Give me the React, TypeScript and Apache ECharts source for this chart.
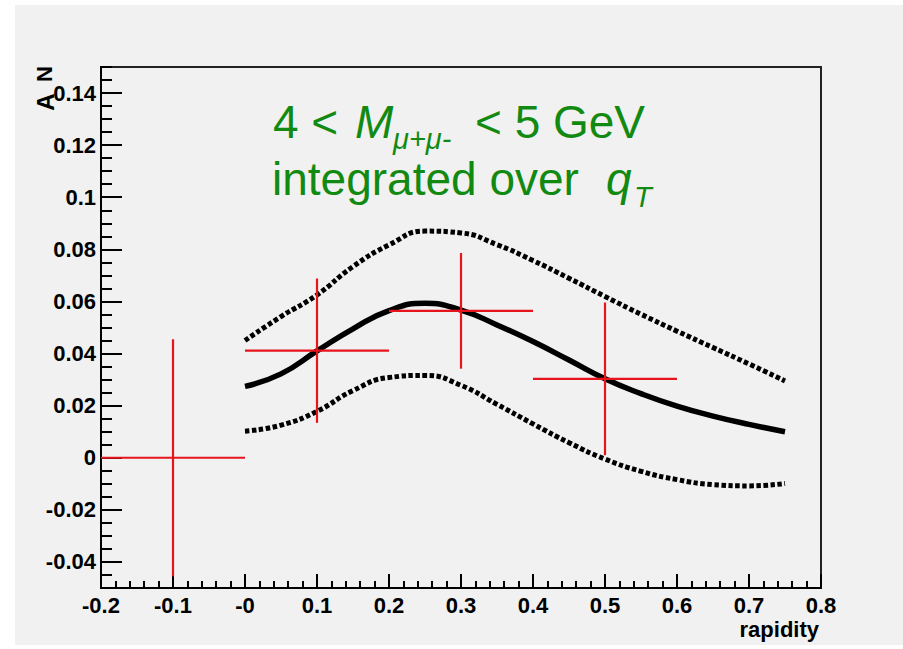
import React, { useEffect, useRef } from "react";
import * as echarts from "echarts";

// ---- data ----
const curveX = [0, 0.05, 0.1, 0.15, 0.2, 0.25, 0.3, 0.35, 0.4, 0.45, 0.5, 0.55, 0.6, 0.65, 0.7, 0.75];
const centralY = [0.0274, 0.0322, 0.041, 0.0495, 0.0565, 0.0593, 0.0567, 0.051, 0.0446, 0.0375, 0.0303, 0.0246, 0.0198, 0.016, 0.0128, 0.01];
const upperY = [0.045, 0.0542, 0.0625, 0.0734, 0.0817, 0.087, 0.0863, 0.0818, 0.0757, 0.0689, 0.0619, 0.0551, 0.0486, 0.0423, 0.036, 0.0295];
const lowerY = [0.0102, 0.0125, 0.0178, 0.0258, 0.0308, 0.0316, 0.0278, 0.0205, 0.013, 0.0058, -0.0005, -0.0052, -0.0084, -0.0103, -0.0108, -0.0099];

const pointX = [-0.1, 0.1, 0.3, 0.5];
const pointY = [0, 0.0411, 0.0564, 0.0303];
const pointXErr = [0.1, 0.1, 0.1, 0.1];
const pointYErr = [0.0455, 0.0277, 0.0222, 0.0293];

const yMajorTicks = [-0.04, -0.02, 0, 0.02, 0.04, 0.06, 0.08, 0.1, 0.12, 0.14];

const GREEN = "#128a12";
const RED = "#e8141c";
const FONT = "'Liberation Sans', Arial, sans-serif";

function App() {
  const ref = useRef<HTMLDivElement>(null);
  useEffect(() => {
    if (!ref.current) return;
    const chart = echarts.init(ref.current, null, { renderer: "svg" });
    const pts = (ys: number[]) => curveX.map((x, i) => [x, ys[i]]);
    const errData = pointX.map((x, i) => [x, pointY[i], pointXErr[i], pointYErr[i]]);
    const labelStyle = {
      color: "#000",
      fontWeight: "bold" as const,
      fontSize: 22,
      fontFamily: FONT,
    };
    const fs = 46;
    const sub = 29;
    const mid = (baseline: number, size: number) => baseline - 0.3465 * size;
    const t = (text: string, x: number, baseline: number, size: number, italic = false) => ({
      type: "text",
      x,
      y: mid(baseline, size),
      style: {
        text,
        fill: GREEN,
        fontSize: size,
        fontFamily: FONT,
        fontStyle: italic ? "italic" : "normal",
        align: "left",
        verticalAlign: "middle",
      },
    });
    const tickLine = { color: "#000", width: 2 };
    chart.setOption({
      animation: false,
      backgroundColor: "transparent",
      grid: {
        left: 101,
        top: 67,
        width: 720,
        height: 521,
        show: true,
        borderColor: "#222",
        borderWidth: 2,
        backgroundColor: "transparent",
      },
      xAxis: {
        type: "value",
        min: -0.2,
        max: 0.8,
        interval: 0.1,
        axisLine: { show: true, onZero: false, lineStyle: { color: "#000", width: 2 } },
        axisTick: { show: true, inside: true, length: 14, lineStyle: tickLine },
        minorTick: { show: true, splitNumber: 5, length: 7, lineStyle: tickLine },
        splitLine: { show: false },
        axisLabel: {
          ...labelStyle,
          margin: 6,
          formatter: (v: number) => (Math.abs(v) < 1e-9 ? "-0" : String(Number(v.toFixed(2)))),
        },
      },
      yAxis: [
        {
          type: "value",
          position: "left",
          min: -0.05,
          max: 0.15,
          axisLine: { show: true, onZero: false, lineStyle: { color: "#000", width: 2 } },
          axisTick: {
            show: true,
            inside: true,
            length: 21,
            customValues: yMajorTicks,
            lineStyle: tickLine,
          },
          splitLine: { show: false },
          axisLabel: {
            ...labelStyle,
            margin: 5,
            customValues: yMajorTicks,
            formatter: (v: number) => String(Number(v.toFixed(3))),
          },
        },
        {
          type: "value",
          position: "left",
          min: -0.05,
          max: 0.15,
          interval: 0.005,
          axisLine: { show: false, onZero: false },
          axisTick: { show: true, inside: true, length: 11, lineStyle: tickLine },
          axisLabel: { show: false },
          splitLine: { show: false },
        },
      ],
      graphic: [
        t("4 <", 273, 138, fs),
        t("M", 355, 138, fs, true),
        t("\u03bc+\u03bc-", 393, 149, sub, true),
        t("< 5 GeV", 475, 138, fs),
        t("integrated over", 272, 195, fs),
        t("q", 606, 195, fs, true),
        t("T", 634, 207, sub, true),
        {
          type: "text",
          x: 45,
          y: 102,
          rotation: Math.PI / 2,
          style: { text: "A", fill: "#000", fontSize: 24, fontWeight: "bold", fontFamily: FONT, align: "center", verticalAlign: "middle" },
        },
        {
          type: "text",
          x: 44,
          y: 74,
          rotation: Math.PI / 2,
          style: { text: "N", fill: "#000", fontSize: 22, fontWeight: "bold", fontFamily: FONT, align: "center", verticalAlign: "middle" },
        },
        {
          type: "text",
          x: 819,
          y: mid(637, 22),
          style: { text: "rapidity", fill: "#000", fontSize: 22, fontWeight: "bold", fontFamily: FONT, align: "right", verticalAlign: "middle" },
        },
      ],
      series: [
        {
          type: "line",
          data: pts(upperY),
          smooth: true,
          showSymbol: false,
          lineStyle: { color: "#000", width: 5, type: [4.5, 2.5], cap: "butt" },
          z: 2,
        },
        {
          type: "line",
          data: pts(lowerY),
          smooth: true,
          showSymbol: false,
          lineStyle: { color: "#000", width: 5, type: [4.5, 2.5], cap: "butt" },
          z: 2,
        },
        {
          type: "line",
          data: pts(centralY),
          smooth: true,
          showSymbol: false,
          lineStyle: { color: "#000", width: 5.5 },
          z: 3,
        },
        {
          type: "custom",
          data: errData,
          encode: { x: 0, y: 1 },
          z: 5,
          renderItem: (params: any, api: any) => {
            const x = api.value(0);
            const y = api.value(1);
            const ex = api.value(2);
            const ey = api.value(3);
            const l = api.coord([x - ex, y]);
            const r = api.coord([x + ex, y]);
            const tp = api.coord([x, y + ey]);
            const b = api.coord([x, y - ey]);
            const st = { stroke: RED, lineWidth: 2.2 };
            return {
              type: "group",
              children: [
                { type: "line", shape: { x1: l[0], y1: l[1], x2: r[0], y2: r[1] }, style: st },
                { type: "line", shape: { x1: tp[0], y1: tp[1], x2: b[0], y2: b[1] }, style: st },
              ],
            };
          },
        },
      ],
    });
    return () => chart.dispose();
  }, []);

  return (
    <div style={{ position: "absolute", left: 0, top: 0, width: 903, height: 649, background: "#fff" }}>
      <div style={{ position: "absolute", left: 15, top: 5, width: 888, height: 640, background: "#f1f1f1" }} />
      <div ref={ref} style={{ position: "absolute", left: 0, top: 0, width: 903, height: 649 }} />
    </div>
  );
}

export default App;
